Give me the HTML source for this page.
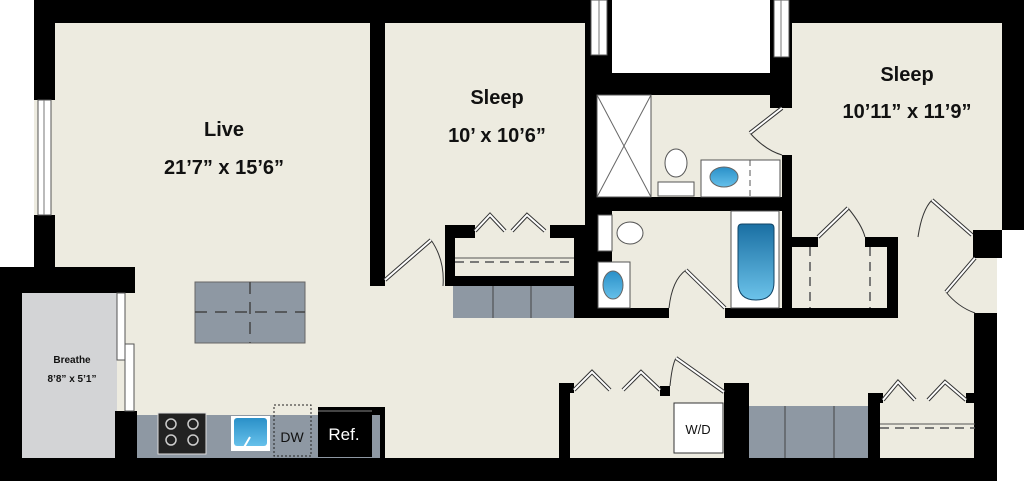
<!DOCTYPE html>
<html><head><meta charset="utf-8"><style>
html,body{margin:0;padding:0;background:#fff;width:1024px;height:481px;overflow:hidden}
svg{display:block}
text{font-family:"Liberation Sans",Arial,sans-serif;font-weight:bold;fill:#111;text-anchor:middle}
</style></head><body>
<svg width="1024" height="481" viewBox="0 0 1024 481" xmlns="http://www.w3.org/2000/svg">
<defs>
<linearGradient id="tub" x1="0" y1="0" x2="0" y2="1"><stop offset="0" stop-color="#1a6fa3"/><stop offset="1" stop-color="#6cc3ea"/></linearGradient>
<linearGradient id="snk" x1="0" y1="0" x2="0" y2="1"><stop offset="0" stop-color="#2a90c8"/><stop offset="1" stop-color="#66c0ea"/></linearGradient>
</defs>
<rect x="0" y="0" width="1024" height="481" fill="#fff"/>
<rect x="34" y="0" width="968" height="470" fill="#edebe0"/>
<rect x="0" y="267" width="40" height="214" fill="#edebe0"/>
<rect x="0" y="0" width="34" height="267" fill="#fff"/>
<rect x="612" y="0" width="160" height="73" fill="#fff"/>
<rect x="997" y="258" width="27" height="223" fill="#fff"/>
<rect x="22" y="293" width="95" height="165" fill="#d3d4d6"/>
<g fill="#000">
<rect x="34" y="0" width="556" height="23"/>
<rect x="34" y="0" width="21" height="100"/>
<rect x="34" y="215" width="21" height="60"/>
<rect x="0" y="267" width="135" height="26"/>
<rect x="0" y="267" width="22" height="214"/>
<rect x="0" y="458" width="997" height="23"/>
<rect x="115" y="411" width="22" height="47"/>
<rect x="370" y="23" width="15" height="263"/>
<rect x="585" y="0" width="27" height="318"/>
<rect x="585" y="73" width="207" height="22"/>
<rect x="770" y="0" width="22" height="108"/>
<rect x="782" y="155" width="10" height="163"/>
<rect x="790" y="0" width="234" height="23"/>
<rect x="1002" y="0" width="22" height="230"/>
<rect x="973" y="230" width="29" height="28"/>
<rect x="974" y="313" width="23" height="168"/>
<rect x="585" y="197" width="207" height="14"/>
<rect x="574" y="225" width="24" height="93"/>
<rect x="574" y="308" width="95" height="10"/>
<rect x="725" y="308" width="173" height="10"/>
<rect x="792" y="237" width="26" height="10"/>
<rect x="865" y="237" width="33" height="10"/>
<rect x="887" y="237" width="11" height="81"/>
<rect x="445" y="225" width="30" height="13"/>
<rect x="550" y="225" width="30" height="13"/>
<rect x="445" y="225" width="10" height="61"/>
<rect x="445" y="276" width="130" height="10"/>
<rect x="559" y="383" width="11" height="75"/>
<rect x="559" y="383" width="15" height="10"/>
<rect x="660" y="386" width="10" height="10"/>
<rect x="724" y="383" width="25" height="75"/>
<rect x="868" y="393" width="12" height="65"/>
<rect x="868" y="393" width="15" height="10"/>
<rect x="966" y="393" width="10" height="10"/>
<rect x="372" y="407" width="13" height="51"/>
</g>
<g fill="#fff" stroke="#555" stroke-width="1">
<rect x="38" y="100" width="13" height="115"/>
<rect x="591" y="0" width="16" height="55"/>
<rect x="774" y="0" width="15" height="57"/>
<rect x="117" y="293" width="8" height="67"/>
<rect x="125" y="344" width="9" height="67"/>
</g>
<g stroke="#777" stroke-width="1"><line x1="44" y1="100" x2="44" y2="215"/><line x1="599" y1="0" x2="599" y2="55"/><line x1="781" y1="0" x2="781" y2="57"/></g>
<rect x="195" y="282" width="110" height="61" fill="#8e98a3" stroke="#666"/>
<g stroke="#444" stroke-width="1.5" stroke-dasharray="12,8"><line x1="195" y1="312" x2="305" y2="312"/><line x1="250" y1="282" x2="250" y2="343"/></g>
<rect x="137" y="415" width="243" height="43" fill="#8e98a3"/>
<rect x="158" y="413" width="48" height="41" fill="#222" stroke="#ddd"/>
<g fill="none" stroke="#ccc" stroke-width="1.5"><circle cx="171" cy="424" r="5"/><circle cx="193" cy="424" r="5"/><circle cx="171" cy="440" r="5"/><circle cx="193" cy="440" r="5"/></g>
<rect x="231" y="416" width="39" height="35" fill="#fff"/>
<rect x="234" y="418" width="33" height="28" rx="3" fill="url(#snk)"/>
<line x1="243" y1="449" x2="250" y2="437" stroke="#fff" stroke-width="2"/>
<rect x="274" y="405" width="37" height="51" fill="none" stroke="#222" stroke-dasharray="2,2"/>
<text x="292" y="442" font-size="14" style="font-weight:normal">DW</text>
<rect x="318" y="407" width="54" height="50" fill="#000"/>
<line x1="318" y1="411" x2="372" y2="411" stroke="#888"/>
<text x="344" y="440" font-size="17" style="font-weight:normal;fill:#fff">Ref.</text>
<rect x="453" y="286" width="121" height="32" fill="#8e98a3"/>
<g stroke="#444"><line x1="493" y1="286" x2="493" y2="318"/><line x1="531" y1="286" x2="531" y2="318"/></g>
<rect x="749" y="406" width="119" height="52" fill="#8e98a3"/>
<g stroke="#444"><line x1="785" y1="406" x2="785" y2="458"/><line x1="834" y1="406" x2="834" y2="458"/></g>
<rect x="674" y="403" width="49" height="50" fill="#fff" stroke="#333"/>
<text x="698" y="434" font-size="13" style="font-weight:normal">W/D</text>
<g stroke="#555" stroke-width="1.5" stroke-dasharray="9,6"><line x1="455" y1="262" x2="574" y2="262"/><line x1="880" y1="428" x2="975" y2="428"/><line x1="810" y1="247" x2="810" y2="308"/><line x1="870" y1="247" x2="870" y2="308"/></g>
<g stroke="#555"><line x1="455" y1="258" x2="574" y2="258"/><line x1="880" y1="424" x2="975" y2="424"/></g>
<rect x="597" y="95" width="54" height="102" fill="#fff" stroke="#555"/>
<g stroke="#666"><line x1="597" y1="95" x2="651" y2="197"/><line x1="651" y1="95" x2="597" y2="197"/></g>
<ellipse cx="676" cy="163" rx="11" ry="14" fill="#fff" stroke="#555"/>
<rect x="658" y="182" width="36" height="14" fill="#fff" stroke="#555"/>
<rect x="701" y="160" width="79" height="37" fill="#fff" stroke="#555"/>
<line x1="750" y1="160" x2="750" y2="197" stroke="#555" stroke-dasharray="6,4"/>
<ellipse cx="724" cy="177" rx="14" ry="10" fill="url(#snk)" stroke="#666"/>
<rect x="598" y="215" width="14" height="36" fill="#fff" stroke="#555"/>
<ellipse cx="630" cy="233" rx="13" ry="11" fill="#fff" stroke="#555"/>
<rect x="598" y="262" width="32" height="46" fill="#fff" stroke="#555"/>
<ellipse cx="613" cy="285" rx="10" ry="14" fill="url(#snk)" stroke="#666"/>
<rect x="731" y="211" width="48" height="97" fill="#fff" stroke="#555"/>
<path d="M738 228 Q738 224 742 224 L770 224 Q774 224 774 228 L774 282 Q774 300 756 300 Q738 300 738 282 Z" fill="url(#tub)" stroke="#146"/>
<!-- door arcs -->
<g fill="none" stroke="#333" stroke-width="1">
<path d="M431 240 Q445 260 443 286"/>
<path d="M669 308 Q672 280 686 270"/>
<path d="M750 133 Q765 150 782 155"/>
<path d="M848 208 Q862 225 865 237"/>
<path d="M918 237 Q922 210 932 200"/>
<path d="M946 292 Q958 307 975 313"/>
<path d="M670 386 Q672 365 676 358"/>
</g>
<!-- door leaves (double line) -->
<g fill="none" stroke-linejoin="miter">
<g stroke="#333" stroke-width="4">
<path d="M385 280 L431 240"/><path d="M686 270 L725 308"/><path d="M782 108 L750 133"/><path d="M818 237 L848 208"/><path d="M932 200 L972 235"/><path d="M975 258 L946 292"/><path d="M676 358 L724 392"/>
<path d="M475 231 L490 215 L505 231 M512 231 L527 215 L545 231"/>
<path d="M574 390 L592 372 L610 390 M623 390 L641 372 L660 390"/>
<path d="M883 400 L898 382 L915 400 M928 400 L945 382 L966 400"/>
</g>
<g stroke="#fff" stroke-width="2">
<path d="M385 280 L431 240"/><path d="M686 270 L725 308"/><path d="M782 108 L750 133"/><path d="M818 237 L848 208"/><path d="M932 200 L972 235"/><path d="M975 258 L946 292"/><path d="M676 358 L724 392"/>
<path d="M475 231 L490 215 L505 231 M512 231 L527 215 L545 231"/>
<path d="M574 390 L592 372 L610 390 M623 390 L641 372 L660 390"/>
<path d="M883 400 L898 382 L915 400 M928 400 L945 382 L966 400"/>
</g>
</g>
<text x="224" y="136" font-size="20">Live</text>
<text x="224" y="174" font-size="20">21’7” x 15’6”</text>
<text x="497" y="104" font-size="20">Sleep</text>
<text x="497" y="142" font-size="20">10’ x 10’6”</text>
<text x="907" y="81" font-size="20">Sleep</text>
<text x="907" y="118" font-size="20">10’11” x 11’9”</text>
<text x="72" y="363" font-size="10">Breathe</text>
<text x="72" y="382" font-size="10">8’8” x 5’1”</text>
</svg>
</body></html>
